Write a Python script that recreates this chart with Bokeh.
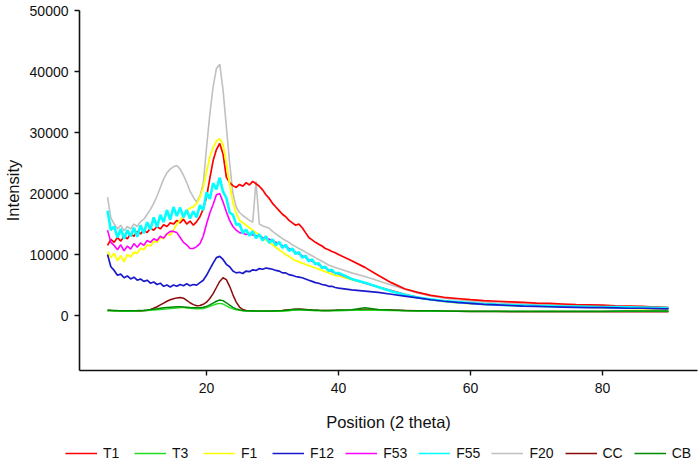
import numpy as np
from bokeh.plotting import figure
from bokeh.layouts import column, row
from bokeh.models import Range1d, FixedTicker, Legend, LegendItem, ColumnDataSource, NumeralTickFormatter
from bokeh.embed import file_html
from bokeh.resources import INLINE

# sampling grid (2 theta): 5..40 step 0.5, then 42..90 step 2
x_fine = np.arange(5, 40.001, 0.5)
x_tail = np.arange(42, 90.001, 2)

# intensities in thousands
T1 = [11.5, 12.5, 12.0, 12.8, 12.2, 13.0, 12.6, 13.4, 13.0, 13.8,
      13.4, 14.0, 13.6, 14.3, 14.0, 14.6, 14.2, 14.9, 14.6, 15.2,
      15.0, 15.6, 15.2, 15.8, 15.0, 15.5, 14.8, 15.4, 16.2, 17.5,
      19.4, 22.5, 25.4, 27.2, 28.2, 26.5, 22.7, 21.8, 21.3, 21.0,
      21.5, 21.2, 21.8, 21.4, 22.0, 21.6, 21.2, 20.6, 19.8, 19.2,
      18.4, 17.8, 17.2, 16.6, 16.2, 15.6, 15.2, 14.8, 15.0, 14.4,
      13.6, 12.8, 12.4, 12.0, 11.7, 11.4, 11.0, 10.8, 10.5, 10.3,
      10.0,
      9.0, 7.9, 6.6, 5.4, 4.4, 3.8, 3.3, 3.0, 2.8, 2.6, 2.45, 2.35, 2.25,
      2.15, 2.05, 2.0, 1.9, 1.8, 1.75, 1.7, 1.6, 1.55, 1.5, 1.4, 1.3]

T3 = [0.8, 0.8, 0.75, 0.75, 0.7, 0.7, 0.7, 0.7, 0.72, 0.75,
      0.78, 0.8, 0.82, 0.85, 0.9, 0.95, 1.0, 1.05, 1.1, 1.15,
      1.2, 1.25, 1.3, 1.3, 1.25, 1.2, 1.15, 1.1, 1.1, 1.15,
      1.3, 1.5, 1.7, 1.9, 2.0, 1.9, 1.6, 1.3, 1.1, 0.95,
      0.85, 0.8, 0.75, 0.75, 0.72, 0.72, 0.7, 0.7, 0.7, 0.7,
      0.7, 0.7, 0.7, 0.72, 0.75, 0.8, 0.85, 0.9, 0.92, 0.9,
      0.88, 0.85, 0.82, 0.8, 0.8, 0.8, 0.8, 0.8, 0.8, 0.8,
      0.8,
      0.85, 0.9, 0.88, 0.82, 0.78, 0.75, 0.72, 0.7, 0.7, 0.68, 0.67, 0.66, 0.66,
      0.66, 0.66, 0.66, 0.67, 0.67, 0.68, 0.68, 0.69, 0.7, 0.7, 0.7, 0.7]

F1 = [10.5, 9.5, 10.2, 9.0, 9.8, 8.8, 10.0, 9.6, 10.4, 10.2,
      11.0, 10.8, 11.6, 11.4, 12.2, 12.0, 12.8, 12.6, 13.4, 13.2,
      14.0, 15.0, 15.6, 16.4, 17.2, 17.6, 17.8, 18.4, 19.4, 21.0,
      23.5, 26.0, 27.5, 28.6, 29.0, 28.0, 25.0, 21.5, 18.5, 16.8,
      15.6, 15.2, 14.8, 14.4, 14.0, 13.6, 13.2, 12.8, 12.4, 12.0,
      11.6, 11.2, 10.8, 10.4, 10.0, 9.7, 9.3, 9.0, 8.8, 8.6,
      8.4, 8.2, 8.0, 7.8, 7.6, 7.4, 7.2, 7.0, 6.8, 6.6,
      6.5,
      5.9, 5.3, 4.7, 4.1, 3.5, 3.0, 2.6, 2.3, 2.1, 1.95, 1.85, 1.75, 1.65,
      1.6, 1.55, 1.5, 1.45, 1.4, 1.35, 1.3, 1.25, 1.2, 1.15, 1.1, 1.05]

F12 = [10.0, 8.0, 7.4, 6.6, 6.8, 6.2, 6.5, 6.0, 6.3, 5.8,
       6.0, 5.6, 5.8, 5.3, 5.5, 5.1, 5.3, 4.8, 5.0, 4.7,
       5.0, 4.8, 5.1, 4.9, 5.2, 4.9, 5.1, 5.0, 5.4, 5.8,
       6.6, 7.6, 8.6, 9.5, 9.7, 9.2, 8.4, 8.0, 7.3, 7.0,
       7.1, 6.9, 7.3, 7.2, 7.5, 7.4, 7.7, 7.6, 7.8, 7.7,
       7.6, 7.4, 7.3, 7.0, 7.0, 6.7, 6.6, 6.4, 6.3, 6.2,
       6.0, 5.8, 5.6, 5.4, 5.3, 5.1, 5.0, 4.8, 4.8, 4.6,
       4.5,
       4.2, 4.0, 3.8, 3.5, 3.2, 2.9, 2.6, 2.35, 2.15, 2.0, 1.85, 1.75, 1.65,
       1.55, 1.5, 1.45, 1.4, 1.35, 1.3, 1.3, 1.25, 1.2, 1.2, 1.15, 1.1]

F53 = [14.0, 12.0, 11.5, 10.8, 11.6, 10.6, 11.4, 10.9, 11.8, 11.2,
       11.9, 11.5, 12.3, 12.0, 12.6, 12.3, 13.0, 12.7, 13.4, 13.8,
       13.8, 13.6, 12.8, 12.0, 11.6, 11.0, 11.0, 11.3, 11.8, 13.0,
       15.0, 16.8, 18.2, 19.8, 20.0, 18.6, 17.0, 15.6, 14.6, 14.0,
       13.6, 13.5, 13.3, 13.4, 13.2, 13.1, 13.0, 12.8, 12.7, 12.5,
       12.3, 12.0, 11.8, 11.5, 11.3, 11.0, 10.7, 10.4, 10.1, 9.8,
       9.5, 9.2, 8.9, 8.6, 8.3, 8.0, 7.8, 7.5, 7.2, 7.0,
       6.8,
       6.0, 5.3, 4.7, 4.1, 3.5, 3.0, 2.6, 2.35, 2.15, 2.0, 1.9, 1.8, 1.72,
       1.66, 1.6, 1.55, 1.5, 1.45, 1.42, 1.38, 1.35, 1.3, 1.27, 1.23, 1.2]

F55 = [17.2, 14.0, 14.6, 12.8, 14.2, 12.6, 14.0, 13.0, 14.4, 12.9,
       14.8, 13.5, 15.3, 14.1, 16.1, 14.5, 16.5, 15.3, 17.3, 15.7,
       17.8, 16.3, 17.7, 16.1, 17.3, 15.9, 17.1, 16.1, 18.1, 17.3,
       20.2, 19.1, 21.7, 20.7, 22.6, 20.3, 19.3, 16.9, 16.5, 14.9,
       15.0, 13.5, 14.1, 13.1, 13.8, 12.7, 13.3, 12.3, 13.0, 11.9,
       12.5, 11.5, 12.1, 11.1, 11.6, 10.6, 11.0, 10.1, 10.4, 9.5,
       9.8, 8.9, 9.2, 8.4, 8.6, 7.8, 8.0, 7.3, 7.5, 6.9,
       7.0,
       6.0, 5.4, 4.7, 4.0, 3.4, 2.95, 2.65, 2.4, 2.2, 2.05, 1.9, 1.8, 1.72,
       1.66, 1.6, 1.55, 1.5, 1.47, 1.44, 1.41, 1.38, 1.35, 1.32, 1.28, 1.25]

F20 = [19.4, 16.0, 15.0, 14.2, 14.8, 13.9, 14.6, 14.2, 15.0, 14.6,
       15.4, 15.8, 16.6, 17.4, 18.4, 19.6, 21.0, 22.4, 23.4, 24.0,
       24.4, 24.6, 24.0, 23.0, 21.8, 20.4, 19.4, 18.6, 19.6, 21.6,
       27.5, 33.0, 37.5, 40.5, 41.2, 37.0, 31.0, 25.0, 20.0, 17.8,
       16.9, 16.4, 16.0, 15.6, 15.3, 22.0, 15.0, 14.7, 14.5, 14.3,
       13.8, 13.4, 13.0, 12.6, 12.3, 12.0, 11.6, 11.3, 11.0, 10.7,
       10.4, 10.1, 9.8, 9.5, 9.2, 8.9, 8.6, 8.3, 8.1, 7.9,
       7.7,
       7.0, 6.4, 5.7, 5.0, 4.3, 3.7, 3.2, 2.85, 2.6, 2.4, 2.25, 2.1, 2.0,
       1.92, 1.85, 1.8, 1.75, 1.7, 1.65, 1.6, 1.55, 1.5, 1.45, 1.4, 1.35]

CC = [0.85, 0.82, 0.8, 0.78, 0.76, 0.74, 0.72, 0.72, 0.72, 0.73,
      0.75, 0.8, 0.88, 1.0, 1.2, 1.45, 1.75, 2.05, 2.35, 2.6,
      2.75, 2.9, 2.95, 2.85, 2.5, 2.1, 1.8, 1.62, 1.65, 1.85,
      2.2, 2.8, 3.6, 4.6, 5.6, 6.2, 5.9, 4.8, 3.4, 2.2,
      1.4, 1.0, 0.85, 0.78, 0.74, 0.72, 0.7, 0.7, 0.7, 0.72,
      0.74, 0.76, 0.8, 0.84, 0.9, 0.95, 1.0, 1.05, 1.08, 1.05,
      1.0, 0.95, 0.9, 0.88, 0.86, 0.85, 0.84, 0.84, 0.85, 0.86,
      0.88,
      0.92, 1.0, 0.95, 0.9, 0.85, 0.8, 0.76, 0.72, 0.7, 0.68, 0.66, 0.65, 0.64,
      0.64, 0.63, 0.63, 0.63, 0.63, 0.63, 0.63, 0.63, 0.63, 0.62, 0.62, 0.62]

CB = [0.9, 0.88, 0.85, 0.82, 0.8, 0.78, 0.78, 0.78, 0.8, 0.82,
      0.85, 0.88, 0.92, 0.98, 1.05, 1.12, 1.2, 1.27, 1.33, 1.38,
      1.42, 1.45, 1.45, 1.42, 1.38, 1.33, 1.3, 1.28, 1.28, 1.35,
      1.5, 1.75, 2.05, 2.35, 2.55, 2.45, 2.1, 1.7, 1.35, 1.1,
      0.95, 0.85, 0.8, 0.78, 0.76, 0.75, 0.74, 0.74, 0.74, 0.75,
      0.76, 0.78, 0.8, 0.82, 0.86, 0.92, 0.98, 1.02, 1.0, 0.98,
      0.95, 0.92, 0.9, 0.88, 0.86, 0.85, 0.85, 0.85, 0.86, 0.88,
      0.9,
      0.95, 1.3, 1.0, 0.92, 0.85, 0.8, 0.78, 0.75, 0.72, 0.7, 0.7, 0.7, 0.7,
      0.7, 0.7, 0.7, 0.72, 0.72, 0.72, 0.73, 0.74, 0.74, 0.75, 0.75, 0.75]

names = ["T1", "T3", "F1", "F12", "F53", "F55", "F20", "CC", "CB"]
series = {"T1": T1, "T3": T3, "F1": F1, "F12": F12, "F53": F53,
          "F55": F55, "F20": F20, "CC": CC, "CB": CB}
colors = {"T1": "#ff0000", "T3": "#22dd22", "F1": "#ffff00", "F12": "#1a1acc",
          "F53": "#ff00ff", "F55": "#00ffff", "F20": "#c0c0c0", "CC": "#8b0a0a",
          "CB": "#008a00"}
widths = {"T1": 1.7, "T3": 1.4, "F1": 1.8, "F12": 1.7, "F53": 1.6,
          "F55": 2.6, "F20": 1.6, "CC": 1.5, "CB": 1.5}
draw_order = ["F20", "T1", "F1", "F53", "F55", "F12", "CC", "T3", "CB"]

x_all = np.concatenate([x_fine, x_tail])
data = {"x": x_all}
for n in names:
    data[n] = np.array(series[n]) * 1000.0
src = ColumnDataSource(data)

FONT = "Liberation Sans"

p = figure(width=699, height=436, output_backend="svg", toolbar_location=None,
           x_range=Range1d(0.75, 94.4), y_range=Range1d(-9000, 50000),
           min_border_top=10, min_border_bottom=66, min_border_left=79,
           min_border_right=2)
p.outline_line_color = None
p.grid.visible = False
p.background_fill_color = "white"

for n in draw_order:
    p.line("x", n, source=src, line_color=colors[n], line_width=widths[n])

for ax in (p.xaxis[0], p.yaxis[0]):
    ax.axis_line_color = "#111111"
    ax.axis_line_width = 1.6
    ax.major_tick_line_color = "#111111"
    ax.major_tick_line_width = 1.4
    ax.major_tick_out = 5
    ax.major_tick_in = 0
    ax.minor_tick_out = 0
    ax.minor_tick_in = 0
    ax.major_label_text_font = FONT
    ax.major_label_text_font_size = "14px"
    ax.major_label_text_color = "#111111"
    ax.axis_label_text_font = FONT
    ax.axis_label_text_font_size = "16.5px"
    ax.axis_label_text_font_style = "normal"
    ax.axis_label_text_color = "#111111"

p.xaxis.ticker = FixedTicker(ticks=[20, 40, 60, 80])
p.yaxis.ticker = FixedTicker(ticks=[0, 10000, 20000, 30000, 40000, 50000])
p.yaxis.formatter = NumeralTickFormatter(format="0")
p.xaxis.axis_label = "Position (2 theta)"
p.yaxis.axis_label = "Intensity"
p.xaxis.major_label_standoff = 7
p.xaxis.axis_label_standoff = 17
p.yaxis.major_label_standoff = 6
p.yaxis.axis_label_standoff = 5

# legend strip below the chart; its swatch lines sit outside its visible range
leg = figure(width=699, height=25, output_backend="svg", toolbar_location=None,
             x_range=Range1d(0, 1), y_range=Range1d(0, 1),
             x_axis_location=None, y_axis_location=None,
             min_border=0)
leg.outline_line_color = None
leg.grid.visible = False
items = []
for n in names:
    r = leg.line(x=[-2, -1], y=[-2, -2], line_color=colors[n], line_width=1.5)
    items.append(LegendItem(label=n, renderers=[r]))
legend = Legend(items=items, orientation="horizontal", location=(65, 0),
                border_line_color=None, background_fill_alpha=0, padding=0,
                margin=0, spacing=11, label_standoff=6, glyph_width=32,
                glyph_height=16, label_text_font=FONT,
                label_text_font_size="14px", label_text_color="#111111",
                label_height=16)
leg.add_layout(legend)

layout = column(p, row(leg), spacing=0)
open("out.html", "w").write(file_html(layout, INLINE))
